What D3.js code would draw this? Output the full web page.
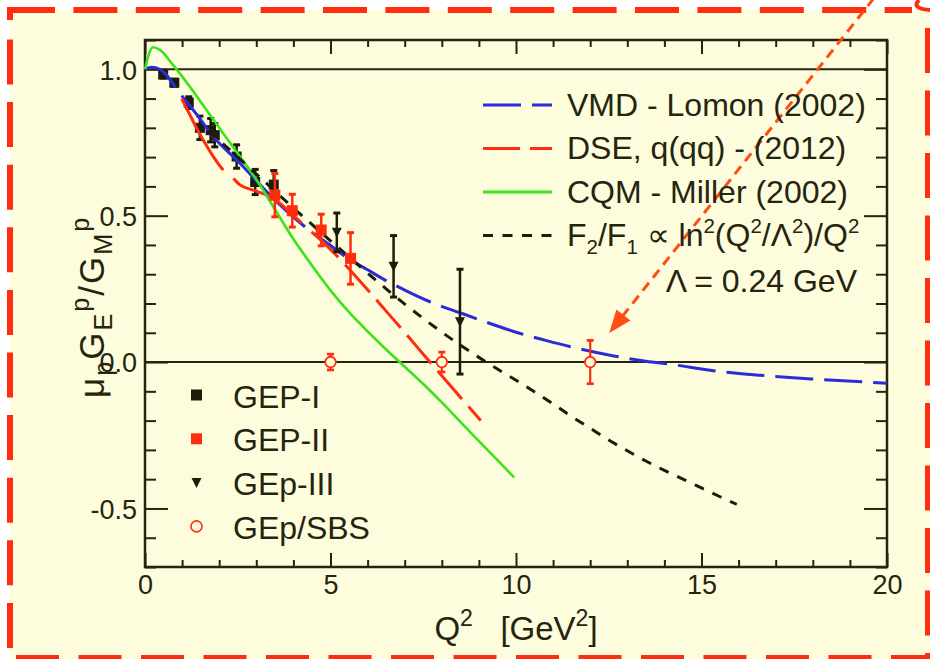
<!DOCTYPE html>
<html><head><meta charset="utf-8">
<script src="https://cdn.jsdelivr.net/npm/d3@7"></script>
<style>
html,body{margin:0;padding:0;background:#fff;}
svg{display:block;font-family:"Liberation Sans",Arial,Helvetica,sans-serif;}
text{white-space:pre;}
</style></head><body>
<svg id="chart" width="930" height="659"></svg>
<script>
// ---- measured ratios mu_p G_E / G_M ----
const gep1Q = [0.49, 0.79, 1.18, 1.48, 1.77, 1.88, 2.47, 2.97, 3.47];
const gep1R = [0.982, 0.954, 0.886, 0.800, 0.792, 0.775, 0.702, 0.615, 0.606];
const gep1E = [0.012, 0.012, 0.020, 0.040, 0.040, 0.040, 0.040, 0.043, 0.048];

const gep2Q = [3.50, 3.97, 4.75, 5.54];
const gep2R = [0.570, 0.517, 0.451, 0.354];
const gep2E = [0.074, 0.056, 0.054, 0.088];

const gep3Q = [5.17, 6.70, 8.49];
const gep3R = [0.443, 0.327, 0.138];
const gep3E = [0.066, 0.105, 0.179];

const sbsQ = [5.0, 8.0, 12.0];
const sbsR = [0.0, 0.0, 0.0];
const sbsE = [0.027, 0.034, 0.074];

// ---- model curves ----
const vmdQ = [0, 0.18, 0.4, 0.58, 0.81, 0.99, 1.44, 1.8, 2.56, 3.37, 4.31, 5.0, 5.44, 6.0, 6.5, 7.0, 7.68, 8.5, 9.16, 10.0, 10.8, 11.68, 12.67, 13.5, 14.24, 15.23, 16.58, 18.0, 20.0];
const vmdR = [1.0, 1.007, 1.0, 0.98, 0.94, 0.91, 0.838, 0.776, 0.679, 0.57, 0.462, 0.398, 0.357, 0.315, 0.278, 0.246, 0.206, 0.168, 0.138, 0.102, 0.074, 0.046, 0.020, 0.003, -0.009, -0.028, -0.045, -0.058, -0.072];

const dseQ = [0.99, 1.2, 1.44, 1.62, 1.85, 2.11, 2.38, 2.56, 2.92, 3.28, 3.64, 4.0, 4.49, 5.0, 5.5, 6.0, 6.5, 7.0, 7.5, 8.0, 8.5, 9.05];
const dseR = [0.90, 0.847, 0.787, 0.747, 0.70, 0.656, 0.627, 0.605, 0.587, 0.57, 0.542, 0.50, 0.445, 0.385, 0.318, 0.247, 0.174, 0.101, 0.027, -0.047, -0.12, -0.20];

const cqmQ = [0, 0.1, 0.22, 0.4, 0.76, 1.21, 1.6, 2.11, 2.5, 3.01, 3.5, 4.0, 4.5, 5.0, 5.53, 6.0, 6.5, 7.0, 7.5, 8.0, 8.5, 9.0, 9.5, 9.95];
const cqmR = [1.0, 1.05, 1.075, 1.066, 1.014, 0.94, 0.871, 0.781, 0.712, 0.622, 0.522, 0.42, 0.33, 0.245, 0.166, 0.105, 0.043, -0.016, -0.075, -0.138, -0.204, -0.27, -0.335, -0.394];

const f21Q = [1.7, 2.0, 2.5, 3.0, 3.5, 4.0, 4.5, 5.0, 5.5, 6.0, 6.5, 7.0, 7.5, 8.0, 8.5, 9.0, 9.5, 10.0, 10.5, 11.0, 11.5, 12.0, 12.5, 13.0, 13.5, 14.0, 14.5, 15.0, 15.5, 15.95];
const f21R = [0.79, 0.757, 0.70, 0.642, 0.584, 0.526, 0.47, 0.414, 0.359, 0.304, 0.25, 0.198, 0.149, 0.102, 0.058, 0.016, -0.024, -0.062, -0.102, -0.143, -0.186, -0.226, -0.266, -0.303, -0.338, -0.37, -0.40, -0.43, -0.46, -0.486];

// ---- axis ticks ----
const xMajor = [0, 5, 10, 15, 20];
const xTickLabels = ["0", "5", "10", "15", "20"];
const yMajor = [-0.5, 0.0, 0.5, 1.0];
const yTickLabels = ["-0.5", "0.0", "0.5", "1.0"];

// ---- styling ----
const W = 930, H = 659;
const BG = "#fdfcdc", INK = "#25250f";
const BLUE = "#2b2bdc", RED = "#ff2d0d", GREEN = "#3ae41c", DARK = "#1c1c0a", ORANGE = "#ff4d14";

const svg = d3.select("#chart");
svg.append("rect").attr("width", W).attr("height", H).attr("fill", "#fff");
svg.append("rect").attr("x", 10).attr("y", 10).attr("width", W - 10).attr("height", H - 10).attr("fill", BG);

const x = d3.scaleLinear().domain([0, 20]).range([145, 887]);
const y = d3.scaleLinear().domain([-0.7, 1.1]).range([567, 40]);
const [x0, x1] = x.range();
const [y0, y1] = y.range();

// ---- dashed frame around the panel ----
const frame = svg.append("g").attr("stroke", RED).attr("stroke-width", 6).attr("fill", "none");
frame.append("line").attr("x1", 11).attr("x2", 912).attr("y1", 10).attr("y2", 10).attr("stroke-dasharray", "44,18.4");
frame.append("line").attr("x1", 10).attr("x2", 10).attr("y1", 7).attr("y2", 20);
frame.append("line").attr("x1", 7).attr("x2", 11).attr("y1", 10).attr("y2", 10);
frame.append("line").attr("x1", 10).attr("x2", 10).attr("y1", 39.5).attr("y2", 665).attr("stroke-dasharray", "45,17.6");
frame.append("line").attr("x1", 16).attr("x2", 930).attr("y1", 658).attr("y2", 658).attr("stroke-dasharray", "43,19.5");
frame.append("line").attr("x1", 928).attr("x2", 928).attr("y1", 28).attr("y2", 665).attr("stroke-dasharray", "45,17.5");
frame.append("path").attr("d", "M919,0 C914,5 916,9 930,10").attr("stroke-width", 4);

// ---- axes ----
const axG = svg.append("g").attr("color", INK).attr("font-family", "Liberation Sans, Arial, sans-serif");
function styleAxis(g, w) {
  g.select(".domain").remove();
  g.selectAll(".tick line").attr("stroke", INK).attr("stroke-width", w);
  g.selectAll(".tick text").attr("fill", INK);
}
const xMinor = x.ticks(20).filter(v => !xMajor.includes(v));
const yMinor = y.ticks(18).filter(v => !yMajor.some(m => Math.abs(m - v) < 1e-9));

axG.append("g").attr("transform", `translate(0,${y0})`)
  .call(d3.axisBottom(x).tickValues(xMajor).tickSize(-14).tickPadding(8).tickFormat((d, i) => xTickLabels[i]))
  .call(g => styleAxis(g, 2)).call(g => g.selectAll("text").attr("font-size", 27));
axG.append("g").attr("transform", `translate(0,${y0})`)
  .call(d3.axisBottom(x).tickValues(xMinor).tickSize(-7).tickFormat(""))
  .call(g => styleAxis(g, 2));
axG.append("g").attr("transform", `translate(0,${y1})`)
  .call(d3.axisTop(x).tickValues(xMajor).tickSize(-14).tickFormat(""))
  .call(g => styleAxis(g, 2));
axG.append("g").attr("transform", `translate(0,${y1})`)
  .call(d3.axisTop(x).tickValues(xMinor).tickSize(-7).tickFormat(""))
  .call(g => styleAxis(g, 2));
axG.append("g").attr("transform", `translate(${x0},0)`)
  .call(d3.axisLeft(y).tickValues(yMajor).tickSize(-23).tickPadding(8).tickFormat((d, i) => yTickLabels[i]))
  .call(g => styleAxis(g, 2)).call(g => g.selectAll("text").attr("font-size", 27).attr("dy", "0.36em"));
axG.append("g").attr("transform", `translate(${x0},0)`)
  .call(d3.axisLeft(y).tickValues(yMinor).tickSize(-11).tickFormat(""))
  .call(g => styleAxis(g, 2));
axG.append("g").attr("transform", `translate(${x1},0)`)
  .call(d3.axisRight(y).tickValues(yMajor).tickSize(-23).tickFormat(""))
  .call(g => styleAxis(g, 2));
axG.append("g").attr("transform", `translate(${x1},0)`)
  .call(d3.axisRight(y).tickValues(yMinor).tickSize(-11).tickFormat(""))
  .call(g => styleAxis(g, 2));

// reference lines at 1 and 0
[1.0, 0.0].forEach(v => {
  svg.append("line").attr("x1", x0).attr("x2", x1).attr("y1", y(v)).attr("y2", y(v))
    .attr("stroke", INK).attr("stroke-width", 2);
});
svg.append("rect").attr("x", x0).attr("y", y1).attr("width", x1 - x0).attr("height", y0 - y1)
  .attr("fill", "none").attr("stroke", INK).attr("stroke-width", 2.5);

// ---- helpers ----
const zip = (q, r, e) => q.map((v, i) => ({ q: v, r: r[i], e: e ? e[i] : 0 }));
const line = d3.line().x(d => x(d[0])).y(d => y(d[1])).curve(d3.curveMonotoneX);

function lengthAt(node, qv) {
  const target = x(qv);
  let lo = 0, hi = node.getTotalLength();
  for (let i = 0; i < 40; i++) {
    const mid = (lo + hi) / 2;
    if (node.getPointAtLength(mid).x < target) lo = mid; else hi = mid;
  }
  return (lo + hi) / 2;
}

function errorBars(g, pts, color, w) {
  const cap = 3.5;
  pts.forEach(p => {
    const cx = x(p.q), ya = y(p.r + p.e), yb = y(p.r - p.e);
    g.append("line").attr("x1", cx).attr("x2", cx).attr("y1", ya).attr("y2", yb)
      .attr("stroke", color).attr("stroke-width", w);
    [ya, yb].forEach(yy => g.append("line").attr("x1", cx - cap).attr("x2", cx + cap)
      .attr("y1", yy).attr("y2", yy).attr("stroke", color).attr("stroke-width", w + 0.5));
  });
}

const tri = (cx, cy, s) => `M${cx - s / 2},${cy - s * 0.45}L${cx + s / 2},${cy - s * 0.45}L${cx},${cy + s * 0.55}Z`;

// ---- GEP-I (drawn beneath the curves) ----
const gI = svg.append("g");
const gep1 = zip(gep1Q, gep1R, gep1E);
errorBars(gI, gep1, DARK, 2.5);
gI.selectAll("rect").data(gep1).join("rect")
  .attr("x", d => x(d.q) - 5).attr("y", d => y(d.r) - 5).attr("width", 10).attr("height", 10).attr("fill", DARK);

// ---- model curves ----
const cg = svg.append("g").attr("fill", "none").attr("stroke-width", 3);

const vmdPath = cg.append("path").datum(vmdQ.map((q, i) => [q, vmdR[i]])).attr("d", line).attr("stroke", BLUE);
{
  const n = vmdPath.node(), T = n.getTotalLength();
  const a = lengthAt(n, 0.82), b = lengthAt(n, 0.99), c = lengthAt(n, 4.31);
  const arr = [a, b - a, c - b];
  let s = c;
  while (s < T) { arr.push(11, 38); s += 49; }
  arr.push(11);
  vmdPath.attr("stroke-dasharray", arr.join(","));
}

const dsePath = cg.append("path").datum(dseQ.map((q, i) => [q, dseR[i]])).attr("d", line).attr("stroke", RED);
{
  const n = dsePath.node(), T = n.getTotalLength();
  const a = lengthAt(n, 2.11), b = lengthAt(n, 2.38), c = lengthAt(n, 4.22), d = lengthAt(n, 4.49);
  const arr = [a, b - a, c - b, d - c];
  let s = d;
  while (s < T) { arr.push(37, 10); s += 47; }
  dsePath.attr("stroke-dasharray", arr.join(","));
}

cg.append("path").datum(cqmQ.map((q, i) => [q, cqmR[i]])).attr("d", line).attr("stroke", GREEN).attr("stroke-width", 2.6);

cg.append("path").datum(f21Q.map((q, i) => [q, f21R[i]])).attr("d", line).attr("stroke", DARK)
  .attr("stroke-dasharray", "10,9.5");

// ---- GEP-II ----
const gII = svg.append("g");
const gep2 = zip(gep2Q, gep2R, gep2E);
errorBars(gII, gep2, RED, 2.5);
gII.selectAll("rect").data(gep2).join("rect")
  .attr("x", d => x(d.q) - 5.5).attr("y", d => y(d.r) - 5.5).attr("width", 11).attr("height", 11).attr("fill", RED);

// ---- GEp-III ----
const gIII = svg.append("g");
const gep3 = zip(gep3Q, gep3R, gep3E);
errorBars(gIII, gep3, DARK, 2.5);
gIII.selectAll("path").data(gep3).join("path").attr("d", d => tri(x(d.q), y(d.r), 10)).attr("fill", DARK);

// ---- GEp/SBS projections ----
const gS = svg.append("g");
const sbs = zip(sbsQ, sbsR, sbsE);
errorBars(gS, sbs, RED, 2.2);
gS.selectAll("circle").data(sbs).join("circle")
  .attr("cx", d => x(d.q)).attr("cy", d => y(d.r)).attr("r", 5.3)
  .attr("fill", BG).attr("stroke", RED).attr("stroke-width", 1.8);

// ---- call-out arrow to the 12 GeV^2 projection ----
{
  const tipX = x(sbsQ[2]) + 19, tipY = y(sbsR[2]) - 29;
  const sx = 874, sy = -2;
  const len = Math.hypot(tipX - sx, tipY - sy);
  const ux = (tipX - sx) / len, uy = (tipY - sy) / len;
  const hl = 23, hw = 9;
  const bx = tipX - ux * hl, by = tipY - uy * hl;
  svg.append("line").attr("x1", sx).attr("y1", sy).attr("x2", bx + ux * 2).attr("y2", by + uy * 2)
    .attr("stroke", ORANGE).attr("stroke-width", 3).attr("stroke-dasharray", "10,6.5");
  svg.append("path")
    .attr("d", `M${tipX},${tipY}L${bx - uy * hw},${by + ux * hw}L${bx + uy * hw},${by - ux * hw}Z`)
    .attr("fill", ORANGE);
}

// ---- rich text helper (sub/superscripts) ----
function rich(sel, parts, size, scale) {
  const sc = scale || 0.64;
  let shift = 0;
  parts.forEach(p => {
    const [t, m, dx] = p;
    const ts = sel.append("tspan").text(t);
    const target = m === 1 ? 0.24 * size : (m === 2 ? -0.42 * size : 0);
    ts.attr("dy", target - shift);
    shift = target;
    if (m) ts.attr("font-size", size * sc);
    if (dx) ts.attr("dx", dx);
  });
}

// ---- model legend ----
const legR = [
  { label: [["VMD - Lomon (2002)"]], color: BLUE, dash: "38,11" },
  { label: [["DSE, q(qq) - (2012)"]], color: RED, dash: "37,10" },
  { label: [["CQM - Miller (2002)"]], color: GREEN, dash: null },
  { label: [["F"], ["2", 1], ["/F"], ["1", 1], [" \u221D ln"], ["2", 2], ["(Q"], ["2", 2], ["/\u039B"], ["2", 2], [")/Q"], ["2", 2]], color: DARK, dash: "10,9.5" }
];
const lg = svg.append("g");
legR.forEach((d, i) => {
  const yy = 105 + i * 43.5;
  lg.append("line").attr("x1", 483).attr("x2", 552).attr("y1", yy).attr("y2", yy)
    .attr("stroke", d.color).attr("stroke-width", 3).attr("stroke-dasharray", d.dash);
  const t = lg.append("text").attr("x", 567).attr("y", yy + 10.5).attr("font-size", 32).attr("fill", INK);
  rich(t, d.label, 32);
});
lg.append("text").attr("x", 857).attr("y", 291.5).attr("text-anchor", "end").attr("font-size", 32).attr("fill", INK)
  .text("\u039B = 0.24 GeV");

// ---- data legend ----
const legL = [
  { label: "GEP-I", kind: "sq", color: DARK },
  { label: "GEP-II", kind: "sq", color: RED },
  { label: "GEp-III", kind: "tri", color: DARK },
  { label: "GEp/SBS", kind: "circ", color: RED }
];
const ll = svg.append("g");
legL.forEach((d, i) => {
  const cy = 395 + i * 43.8;
  if (d.kind === "sq") ll.append("rect").attr("x", 191).attr("y", cy - 5.5).attr("width", 11).attr("height", 11).attr("fill", d.color);
  if (d.kind === "tri") ll.append("path").attr("d", tri(196.5, cy, 10)).attr("fill", d.color);
  if (d.kind === "circ") ll.append("circle").attr("cx", 196.5).attr("cy", cy).attr("r", 5.5)
    .attr("fill", "none").attr("stroke", d.color).attr("stroke-width", 1.6);
  ll.append("text").attr("x", 233).attr("y", cy + 12.5).attr("font-size", 32).attr("fill", INK).text(d.label);
});

// ---- axis titles ----
const xt = svg.append("text").attr("x", (x0 + x1) / 2).attr("y", 640).attr("text-anchor", "middle")
  .attr("font-size", 33).attr("fill", INK);
rich(xt, [["Q"], ["2", 2], ["   [GeV"], ["2", 2], ["]"]], 33, 0.7);

const yt = svg.append("text").attr("transform", "translate(104,398) rotate(-90)")
  .attr("text-anchor", "start").attr("font-size", 35).attr("letter-spacing", 2).attr("fill", INK);
rich(yt, [["\u03BC"], ["p", 1], ["G"], ["E", 1], ["p", 2], ["/G"], ["M", 1], ["p", 2]], 35, 0.72);
</script>
</body></html>
